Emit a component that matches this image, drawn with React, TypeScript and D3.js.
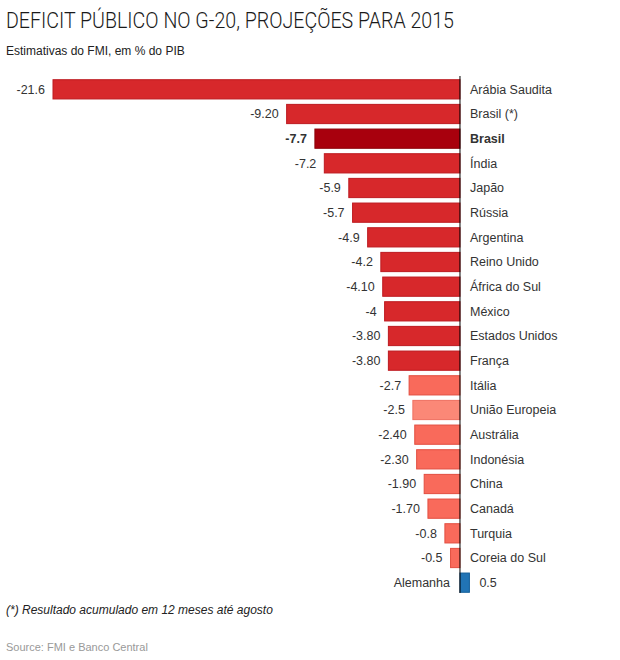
import React from "react";
import * as d3 from "d3";

const countries = ["Arábia Saudita","Brasil (*)","Brasil","Índia","Japão","Rússia","Argentina","Reino Unido","África do Sul","México","Estados Unidos","França","Itália","União Europeia","Austrália","Indonésia","China","Canadá","Turquia","Coreia do Sul","Alemanha"];
const values = [-21.6,-9.2,-7.7,-7.2,-5.9,-5.7,-4.9,-4.2,-4.1,-4,-3.8,-3.8,-2.7,-2.5,-2.4,-2.3,-1.9,-1.7,-0.8,-0.5,0.5];
const valueLabels = ["-21.6","-9.20","-7.7","-7.2","-5.9","-5.7","-4.9","-4.2","-4.10","-4","-3.80","-3.80","-2.7","-2.5","-2.40","-2.30","-1.90","-1.70","-0.8","-0.5","0.5"];
const groups = ["g","g","hl","g","g","g","g","g","g","g","g","g","l","eu","l","l","l","l","l","l","pos"];

const fills: Record<string,string> = { g: "#d7282b", hl: "#a8000d", l: "#f96a5b", eu: "#fb8877", pos: "#2174b5" };
const strokes: Record<string,string> = { g: "#bd1a20", hl: "#8c0009", l: "#e24e40", eu: "#ee7060", pos: "#135e99" };

export default function App() {
  const x = d3.scaleLinear().domain([-21.6, 0.5]).range([53, 469.4]);
  const y = d3.scaleBand<number>().domain(d3.range(countries.length)).range([77, 595]).paddingInner(0.22).paddingOuter(0.11);
  const font = "'Liberation Sans', Arial, Helvetica, sans-serif";
  const x0 = x(0);
  return (
    <svg width={620} height={660} style={{ position: "absolute", left: 0, top: 0, background: "#fff" }} fontFamily={font}>
      <text x={6} y={28} fontSize={22} fill="#1a1a1a" fontFamily="Roboto, 'Liberation Sans', sans-serif" style={{ fontWeight: 300 }} textLength={448} lengthAdjust="spacingAndGlyphs">DEFICIT PÚBLICO NO G-20, PROJEÇÕES PARA 2015</text>
      <text x={6} y={55} fontSize={12} fill="#222">Estimativas do FMI, em % do PIB</text>
      {values.map((v, i) => {
        const yy = y(i)!;
        const h = y.bandwidth();
        const xs = Math.min(x(v), x0);
        const w = Math.abs(x(v) - x0);
        const g = groups[i];
        const cy = yy + h / 2;
        const bold = g === "hl";
        return (
          <g key={i}>
            <rect x={xs} y={yy} width={w} height={h} fill={fills[g]} stroke={strokes[g]} strokeWidth={1} />
            {v < 0 ? (
              <>
                <text x={x(v) - 8} y={cy} dy="0.35em" textAnchor="end" fontSize={12.5} fill="#333" fontWeight={bold ? "bold" : "normal"}>{valueLabels[i]}</text>
                <text x={470} y={cy} dy="0.35em" fontSize={12.5} fill="#333" fontWeight={bold ? "bold" : "normal"}>{countries[i]}</text>
              </>
            ) : (
              <>
                <text x={x0 - 10} y={cy} dy="0.35em" textAnchor="end" fontSize={12.5} fill="#333">{countries[i]}</text>
                <text x={x(v) + 10} y={cy} dy="0.35em" fontSize={12.5} fill="#333">{valueLabels[i]}</text>
              </>
            )}
          </g>
        );
      })}
      <line x1={x0} x2={x0} y1={76} y2={593} stroke="#000" strokeWidth={1} />
      <text x={6} y={614} fontSize={12} fontStyle="italic" fill="#222">(*) Resultado acumulado em 12 meses até agosto</text>
      <text x={6} y={651} fontSize={11} fill="#999">Source: FMI e Banco Central</text>
    </svg>
  );
}
